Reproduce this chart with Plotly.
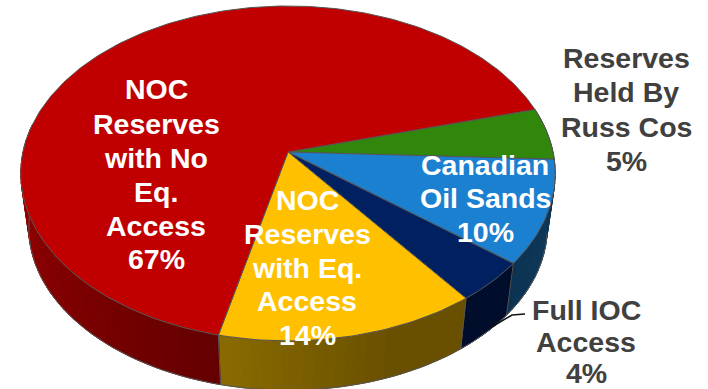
import math
import plotly.graph_objects as go

# Shares of world reserves, clockwise from the far-right edge of the green slice
categories = ["Reserves Held By Russ Cos", "Canadian Oil Sands", "Full IOC Access",
              "NOC Reserves with Eq. Access", "NOC Reserves with No Eq. Access"]
shares = [5, 10, 4, 14, 67]
top_colors = ["#31860c", "#1c80d0", "#00205f", "#ffc000", "#c00000"]
# Wall shade at the clockwise start and end of each slice
wall_start = ["#1b4a06", "#0f3a5e", "#000d2b", "#695000", "#640000"]
wall_end = ["#1b4a06", "#0c3352", "#000d2b", "#8a6b00", "#a00000"]
# Fraction of a slice's wall that keeps the start shade before it begins to change
wall_hold = [0.0, 0.0, 0.0, 0.35, 0.0]

START_DEG = 15.5
WALL_LIMIT_DEG = -190.0
CX, CY, RX, RY, TILT = 288.0, 152.0, 265.0, 164.7, 0.128
DEPTH, SHRINK = 55.0, 0.97
EDGE = "#555555"

# Text lines: (x, [(y, text), ...], colour)
labels = [
    (156, [(89, "NOC"), (124, "Reserves"), (158, "with No"), (192, "Eq."), (226, "Access"), (259, "67%")], "#ffffff"),
    (307, [(200, "NOC"), (234, "Reserves"), (268, "with Eq."), (301, "Access"), (335, "14%")], "#ffffff"),
    (485, [(165, "Canadian"), (198, "Oil Sands"), (232, "10%")], "#ffffff"),
    (626, [(58, "Reserves"), (92, "Held By"), (127, "Russ Cos"), (161, "5%")], "#404040"),
    (586, [(310, "Full IOC"), (342, "Access"), (373, "4%")], "#404040"),
]
leader_x = [525, 512, 490]
leader_y = [314, 315, 328]


def project(deg, lower=False):
    """Perspective view of a point on the disc's rim, top or bottom face."""
    a = math.radians(deg)
    X, Y = math.cos(a), math.sin(a)
    s = SHRINK if lower else 1.0
    dy = DEPTH if lower else 0.0
    w = 1 + TILT * Y
    return CX + s * RX * X / w, CY + dy - s * RY * Y / w


def arc(a0, a1, lower=False, step=1.0):
    n = max(2, int(abs(a1 - a0) / step) + 1)
    pts = [project(a0 + (a1 - a0) * i / (n - 1), lower) for i in range(n)]
    return [p[0] for p in pts], [p[1] for p in pts]


def mix(c0, c1, t):
    a = [int(c0[i:i + 2], 16) for i in (1, 3, 5)]
    b = [int(c1[i:i + 2], 16) for i in (1, 3, 5)]
    return "#%02x%02x%02x" % tuple(round(u + (v - u) * t) for u, v in zip(a, b))


def poly(xs, ys, fill, line=None, width=1.0):
    return go.Scatter(x=xs, y=ys, mode="lines", fill="toself", fillcolor=fill,
                      line=dict(color=line or fill, width=width), hoverinfo="skip", showlegend=False)


def stroke(xs, ys, color=EDGE, width=1.0):
    return go.Scatter(x=xs, y=ys, mode="lines", line=dict(color=color, width=width),
                      hoverinfo="skip", showlegend=False)


# Slice boundaries in degrees, turning clockwise
bounds = [START_DEG]
for s in shares:
    bounds.append(bounds[-1] - s * 3.6)

fig = go.Figure()

# Side wall, built from narrow shaded strips along the near rim
for i in range(len(shares)):
    lo, hi = bounds[i], max(bounds[i + 1], WALL_LIMIT_DEG)
    n = max(2, int(abs(hi - lo) / 2))
    for k in range(n):
        t0, t1 = lo + (hi - lo) * k / n, lo + (hi - lo) * (k + 1) / n
        f = max(0.0, ((k + 0.5) / n - wall_hold[i]) / (1 - wall_hold[i]))
        tx, ty = arc(t0, t1)
        bx, by = arc(t1, t0, lower=True)
        fig.add_trace(poly(tx + bx + tx[:1], ty + by + ty[:1], mix(wall_start[i], wall_end[i], f)))

# Grey seams on the wall and its lower outline
for b in bounds[2:5]:
    x0, y0 = project(b)
    x1, y1 = project(b, lower=True)
    fig.add_trace(stroke([x0, x1], [y0, y1]))
fig.add_trace(stroke(*arc(bounds[0] - 25, WALL_LIMIT_DEG, lower=True)))

# Top face
for i, share in enumerate(shares):
    xs, ys = arc(bounds[i], bounds[i + 1])
    fig.add_trace(poly([CX] + xs + [CX], [CY] + ys + [CY], top_colors[i], line=EDGE, width=1.0))

# Leader from the small slice to its label
fig.add_trace(stroke(leader_x, leader_y, color="#111111", width=1.5))

for x, rows, color in labels:
    for y, text in rows:
        fig.add_annotation(x=x, y=y, text=f"<b>{text}</b>", showarrow=False, xanchor="center",
                           yanchor="middle", font=dict(family="Liberation Sans", size=28.5, color=color))

fig.update_xaxes(range=[0, 708], visible=False, fixedrange=True)
fig.update_yaxes(range=[389, 0], visible=False, fixedrange=True)
fig.update_layout(width=708, height=389, margin=dict(l=0, r=0, t=0, b=0),
                  paper_bgcolor="#ffffff", plot_bgcolor="#ffffff", showlegend=False)

fig.write_html("out.html", config={"displayModeBar": False})
